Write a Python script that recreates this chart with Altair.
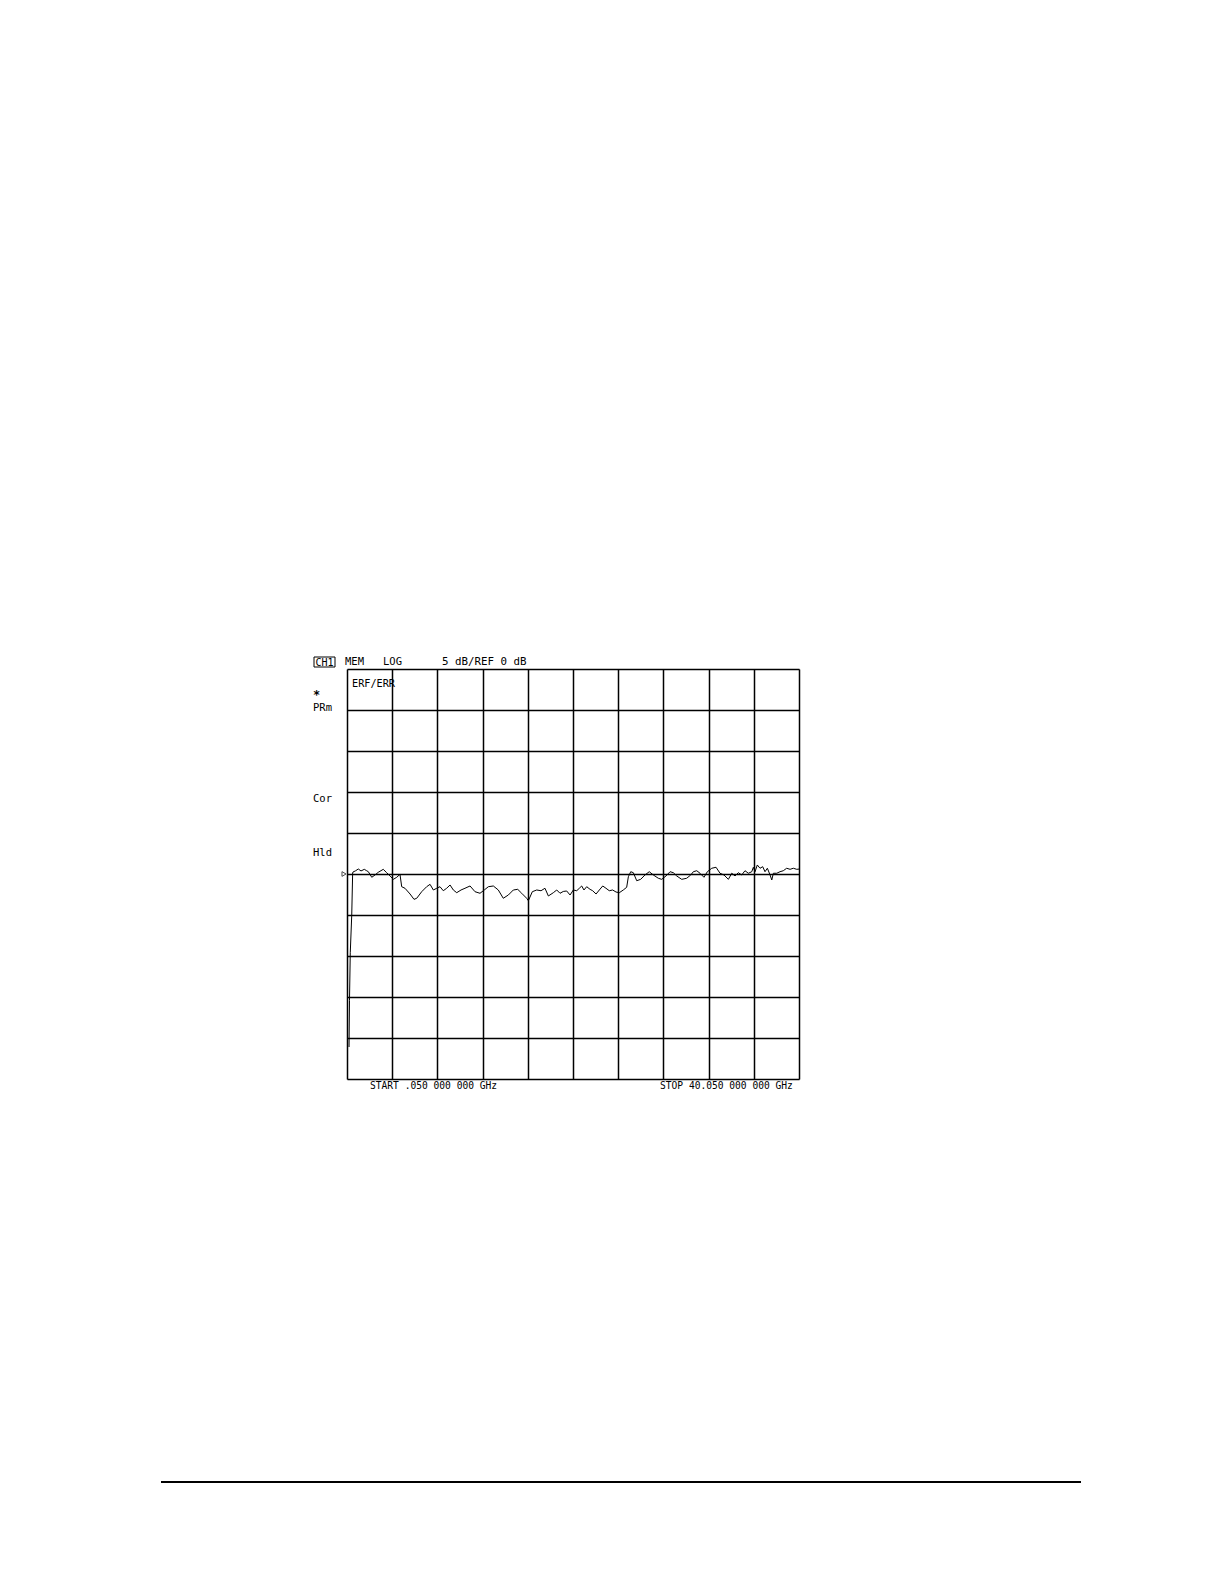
import altair as alt
import pandas as pd

freq_ghz = [0.23, 0.27, 0.34, 0.47, 0.55,
            0.58, 0.82, 1.05, 1.29, 1.58, 1.79, 1.94, 2.24, 2.53, 2.82, 3.26, 3.56, 3.86, 4.15, 4.45,
            4.74, 4.89, 5.18, 5.63, 5.98, 6.22, 6.66, 7.10, 7.40, 7.69, 7.99, 8.28, 8.57, 8.87, 9.17,
            9.46, 9.76, 10.14, 10.49, 10.94, 11.38, 11.82, 12.20, 12.56, 13.00, 13.44, 13.88, 14.33,
            14.77, 15.16, 15.51, 15.95, 16.10, 16.45, 16.84, 17.22, 17.57, 17.87, 18.31, 18.61, 18.90,
            19.19, 19.49, 19.79, 20.08, 20.38, 20.61, 20.82, 21.02, 21.26, 21.56, 21.79, 22.09, 22.38,
            22.68, 22.97, 23.26, 23.56, 23.86, 24.15, 24.50, 24.80, 24.95, 25.16, 25.39, 25.69, 26.04,
            26.42, 26.80, 27.16, 27.60, 27.90, 28.28, 28.64, 28.93, 29.23, 29.67, 30.11, 30.47, 30.70,
            31.00, 31.29, 31.64, 31.94, 32.33, 32.71, 33.06, 33.41, 33.80, 34.10, 34.39, 34.68, 34.98,
            35.27, 35.57, 35.87, 36.01, 36.16, 36.36, 36.60, 36.84, 37.04, 37.25, 37.49, 37.64, 37.78,
            38.08, 38.37, 38.66, 38.96, 39.26, 39.55, 39.85, 40.05]
mag_db = [-21.1, -15.4, -9.6, -5.0, 0.12,
          0.24, 0.40, 0.61, 0.37, 0.57, 0.40, 0.28, -0.40, -0.12, 0.21, 0.57, 0.16, -0.24, -0.65, -0.40,
          -0.04, -1.55, -1.74, -2.44, -3.09, -2.96, -2.16, -1.55, -1.26, -1.95, -1.74, -1.55, -2.04, -1.74, -1.34,
          -1.95, -2.28, -1.95, -1.74, -1.46, -2.16, -2.35, -1.95, -1.55, -1.46, -1.95, -2.96, -2.56,
          -1.95, -1.87, -2.35, -2.96, -3.26, -2.16, -1.95, -2.04, -1.74, -2.68, -2.28, -1.95, -2.35,
          -2.13, -2.07, -2.56, -1.95, -2.04, -1.74, -1.46, -1.95, -1.55, -1.87, -2.04, -2.44, -1.95,
          -1.46, -1.74, -2.04, -1.95, -2.20, -2.28, -1.95, -1.62, -0.33, 0.28, 0.16, -0.82, -0.65,
          -0.12, 0.28, -0.12, -0.52, -0.65, -0.24, 0.28, 0.16, -0.24, -0.65, -0.52, -0.12, 0.28,
          0.40, 0.09, -0.40, 0.28, 0.70, 0.82, 0.09, -0.12, -0.65, 0.09, -0.24, 0.16, -0.12,
          0.40, 0.09, 0.28, 0.82, 0.28, 1.10, 0.70, 0.89, 0.28, 0.70, -0.12, -0.73, 0.09,
          0.09, 0.28, 0.40, 0.70, 0.57, 0.70, 0.57, 0.60]

x_ticks = [0.05, 4.05, 8.05, 12.05, 16.05, 20.05, 24.05, 28.05, 32.05, 36.05, 40.05]
y_ticks = [-25, -20, -15, -10, -5, 0, 5, 10, 15, 20, 25]
ref_level = [0]

label_ch = "CH1"
label_mem = "MEM"
label_fmt = "LOG"
label_scale = "5 dB/REF 0 dB"
label_trace = "ERF/ERR"
label_star = "*"
label_prm = "PRm"
label_cor = "Cor"
label_hld = "Hld"
label_start = "START .050 000 000 GHz"
label_stop = "STOP 40.050 000 000 GHz"

FONT = "DejaVu Sans Mono"

df = pd.DataFrame({"f": freq_ghz, "db": mag_db})

xscale = alt.Scale(domain=[0.05, 40.05], nice=False, zero=False)
yscale = alt.Scale(domain=[-25, 25], nice=False, zero=False)

grid_axis_x = alt.Axis(values=x_ticks, grid=True, labels=False, ticks=False, domain=False,
                       title=None, gridColor="black", gridWidth=1.5, gridOpacity=1)
grid_axis_y = alt.Axis(values=y_ticks, grid=True, labels=False, ticks=False, domain=False,
                       title=None, gridColor="black", gridWidth=1.5, gridOpacity=1)

trace = alt.Chart(df).mark_line(color="black", strokeWidth=1).encode(
    x=alt.X("f:Q", scale=xscale, axis=grid_axis_x),
    y=alt.Y("db:Q", scale=yscale, axis=grid_axis_y),
)

marker = alt.Chart(pd.DataFrame({"r": ref_level})).mark_point(
    shape="triangle-right", filled=False, color="black", size=22, strokeWidth=1
).encode(x=alt.value(-3), y=alt.Y("r:Q", scale=yscale))


def txt(label, px, py, align="left", size=10.0, weight="normal"):
    return alt.Chart(pd.DataFrame({"t": [label]})).mark_text(
        font=FONT, fontSize=size, color="black", align=align, baseline="alphabetic",
        fontWeight=weight
    ).encode(x=alt.value(px), y=alt.value(py), text="t:N")


box = alt.Chart(pd.DataFrame({"t": [label_ch]})).mark_rect(
    fill=None, stroke="black", strokeWidth=1
).encode(x=alt.value(-33), x2=alt.value(-12), y=alt.value(-12), y2=alt.value(-2))

footer = alt.Chart(pd.DataFrame({"t": [""]})).mark_rule(color="black", strokeWidth=2).encode(
    x=alt.value(-186), x2=alt.value(734), y=alt.value(813)
)

chart = alt.layer(
    trace,
    marker,
    box,
    txt(label_ch, -22.5, -3.5, align="center", size=10),
    txt(label_mem, -2, -4, size=10.5),
    txt(label_fmt, 36, -4, size=10.5),
    txt(label_scale, 95, -4, size=10.8),
    txt(label_trace, 5, 18, size=10.2),
    txt(label_star, -34, 30, size=12, weight="bold"),
    txt(label_prm, -34, 42, size=10.5),
    txt(label_cor, -34, 133, size=10.5),
    txt(label_hld, -34, 187, size=10.5),
    txt(label_start, 23, 420, size=9.6),
    txt(label_stop, 313, 420, size=9.6),
    footer,
).properties(
    width=452,
    height=410,
    autosize=alt.AutoSizeParams(type="none"),
    padding={"left": 339, "top": 661, "right": 400, "bottom": 480},
).configure_view(
    stroke="black", strokeWidth=1.5
).configure(background="white")

chart.save("out.html", embed_options={"renderer": "svg", "actions": False})
